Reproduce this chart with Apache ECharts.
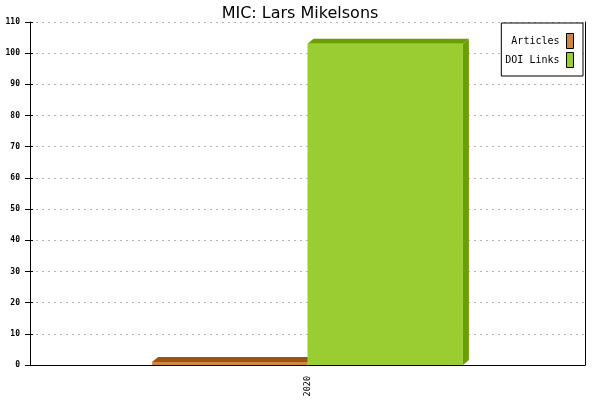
<!DOCTYPE html>
<html><head><meta charset="utf-8">
<script src="https://cdn.jsdelivr.net/npm/echarts@6/dist/echarts.min.js"></script>
<style>html,body{margin:0;padding:0;background:#fff}#c{width:600px;height:400px}</style>
</head><body><div id="c"></div>
<script>
const categories = ['2020'];
const articles = [1];
const doiLinks = [103];
const yTicks = { min: 0, max: 110, interval: 10 };

const chart = echarts.init(document.getElementById('c'), null, { renderer: 'canvas' });
const DX = 6, DY = 5, BAR_FRAC = 0.28;

function make3D(front, shade, side) {
  return function (params, api) {
    const cat = api.value(0), val = api.value(1);
    const top = api.coord([cat, val]);
    const base = api.coord([cat, 0]);
    const band = api.size([1, 0])[0];
    const w = band * BAR_FRAC;
    const x0 = side === 'left' ? top[0] - w : top[0];
    const x1 = x0 + w;
    const yT = top[1], yB = base[1];
    return {
      type: 'group',
      children: [
        { type: 'polygon', shape: { points: [[x1, yT], [x1 + DX, yT - DY], [x1 + DX, yB - DY], [x1, yB]] }, style: { fill: shade } },
        { type: 'polygon', shape: { points: [[x0, yT], [x0 + DX, yT - DY], [x1 + DX, yT - DY], [x1, yT]] }, style: { fill: shade } },
        { type: 'rect', shape: { x: x0, y: yT, width: w, height: yB - yT }, style: { fill: front } }
      ]
    };
  };
}

const mono = '"DejaVu Sans Mono", monospace';
chart.setOption({
  animation: false,
  title: {
    text: 'MIC: Lars Mikelsons', left: 'center', top: 1,
    textStyle: { fontFamily: '"DejaVu Sans", sans-serif', fontSize: 16, fontWeight: 'normal', color: '#000' }
  },
  legend: {
    right: 17, top: 23, orient: 'vertical', align: 'right',
    backgroundColor: '#fff', borderColor: '#000', borderWidth: 1,
    padding: [10, 9, 8, 4], itemGap: 3, itemWidth: 7, itemHeight: 15,
    icon: 'rect',
    itemStyle: { borderColor: '#000', borderWidth: 1 },
    textStyle: { fontFamily: mono, fontSize: 10, color: '#000', padding: [0, 2, 0, 0] },
    data: ['Articles', 'DOI Links']
  },
  grid: { left: 30, right: 15, top: 22, bottom: 35, containLabel: false },
  xAxis: {
    type: 'category', data: categories, boundaryGap: true,
    axisLine: { lineStyle: { color: '#000', width: 1 } },
    axisTick: { length: 5, lineStyle: { color: '#000' } },
    axisLabel: { rotate: 90, margin: 11, fontFamily: mono, fontSize: 8.5, color: '#000' },
    splitLine: { show: false }
  },
  yAxis: [
    {
      type: 'value', min: yTicks.min, max: yTicks.max, interval: yTicks.interval,
      axisLine: { show: true, lineStyle: { color: '#000' } },
      axisTick: { show: true, length: 5, lineStyle: { color: '#000' } },
      axisLabel: { margin: 10, fontFamily: mono, fontSize: 8, fontWeight: 'bold', color: '#000' },
      splitLine: { show: true, lineStyle: { color: '#b4b4b4', type: [2, 4], width: 1 } }
    },
    {
      type: 'value', min: yTicks.min, max: yTicks.max, interval: yTicks.interval, position: 'left',
      axisLine: { show: false },
      axisTick: { show: true, inside: true, length: 3, lineStyle: { color: '#000' } },
      axisLabel: { show: false }, splitLine: { show: false }
    },
    {
      type: 'value', min: yTicks.min, max: yTicks.max, interval: yTicks.interval, position: 'right',
      axisLine: { show: true, lineStyle: { color: '#000' } },
      axisTick: { show: false }, axisLabel: { show: false }, splitLine: { show: false }
    }
  ],
  series: [
    {
      name: 'Articles', type: 'custom', itemStyle: { color: '#cd853f' },
      renderItem: make3D('#d08840', '#9c5414', 'left'),
      data: categories.map((c, i) => [i, articles[i]])
    },
    {
      name: 'DOI Links', type: 'custom', itemStyle: { color: '#9acd32' },
      renderItem: make3D('#9acd32', '#6b9e00', 'right'),
      data: categories.map((c, i) => [i, doiLinks[i]])
    }
  ]
});
</script></body></html>
